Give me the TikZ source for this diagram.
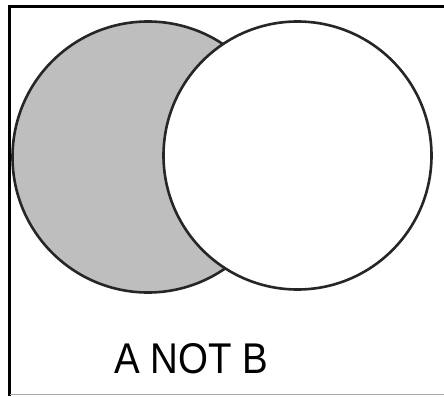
\documentclass[tikz,border=0pt]{standalone}
\usepackage{fontspec}
\setmainfont{Liberation Sans}
\definecolor{shade}{RGB}{190,190,190}
\begin{document}
\begin{tikzpicture}[x=1pt,y=-1pt,
  venn/.style={circle,draw=black!85,line width=2.6pt,inner sep=0pt},
  frame/.style={line width=3pt,black}]
\useasboundingbox (0,0) rectangle (444,396);
\fill[white] (0,0) rectangle (444,396);
\coordinate (bl) at (9,396);
\coordinate (tl) at (9,6.5);
\coordinate (tr) at (444,6.5);
\coordinate (br0) at (10,394.5);
\coordinate (br1) at (444,394.5);
\draw[frame] (bl) -- (tl) -- (tr);
\draw[gray!70,line width=1pt] (br0) -- (br1);
\node[venn,fill=shade,minimum size=271pt] (A) at (148,157) {};
\node[venn,fill=white,minimum size=268pt] (B) at (297.5,155.5) {};
\node[inner sep=0pt,font=\fontsize{43}{43}\selectfont] (lbl) at (191,358.5) {\scalebox{0.895}[1]{A NOT B}};
\end{tikzpicture}
\end{document}
